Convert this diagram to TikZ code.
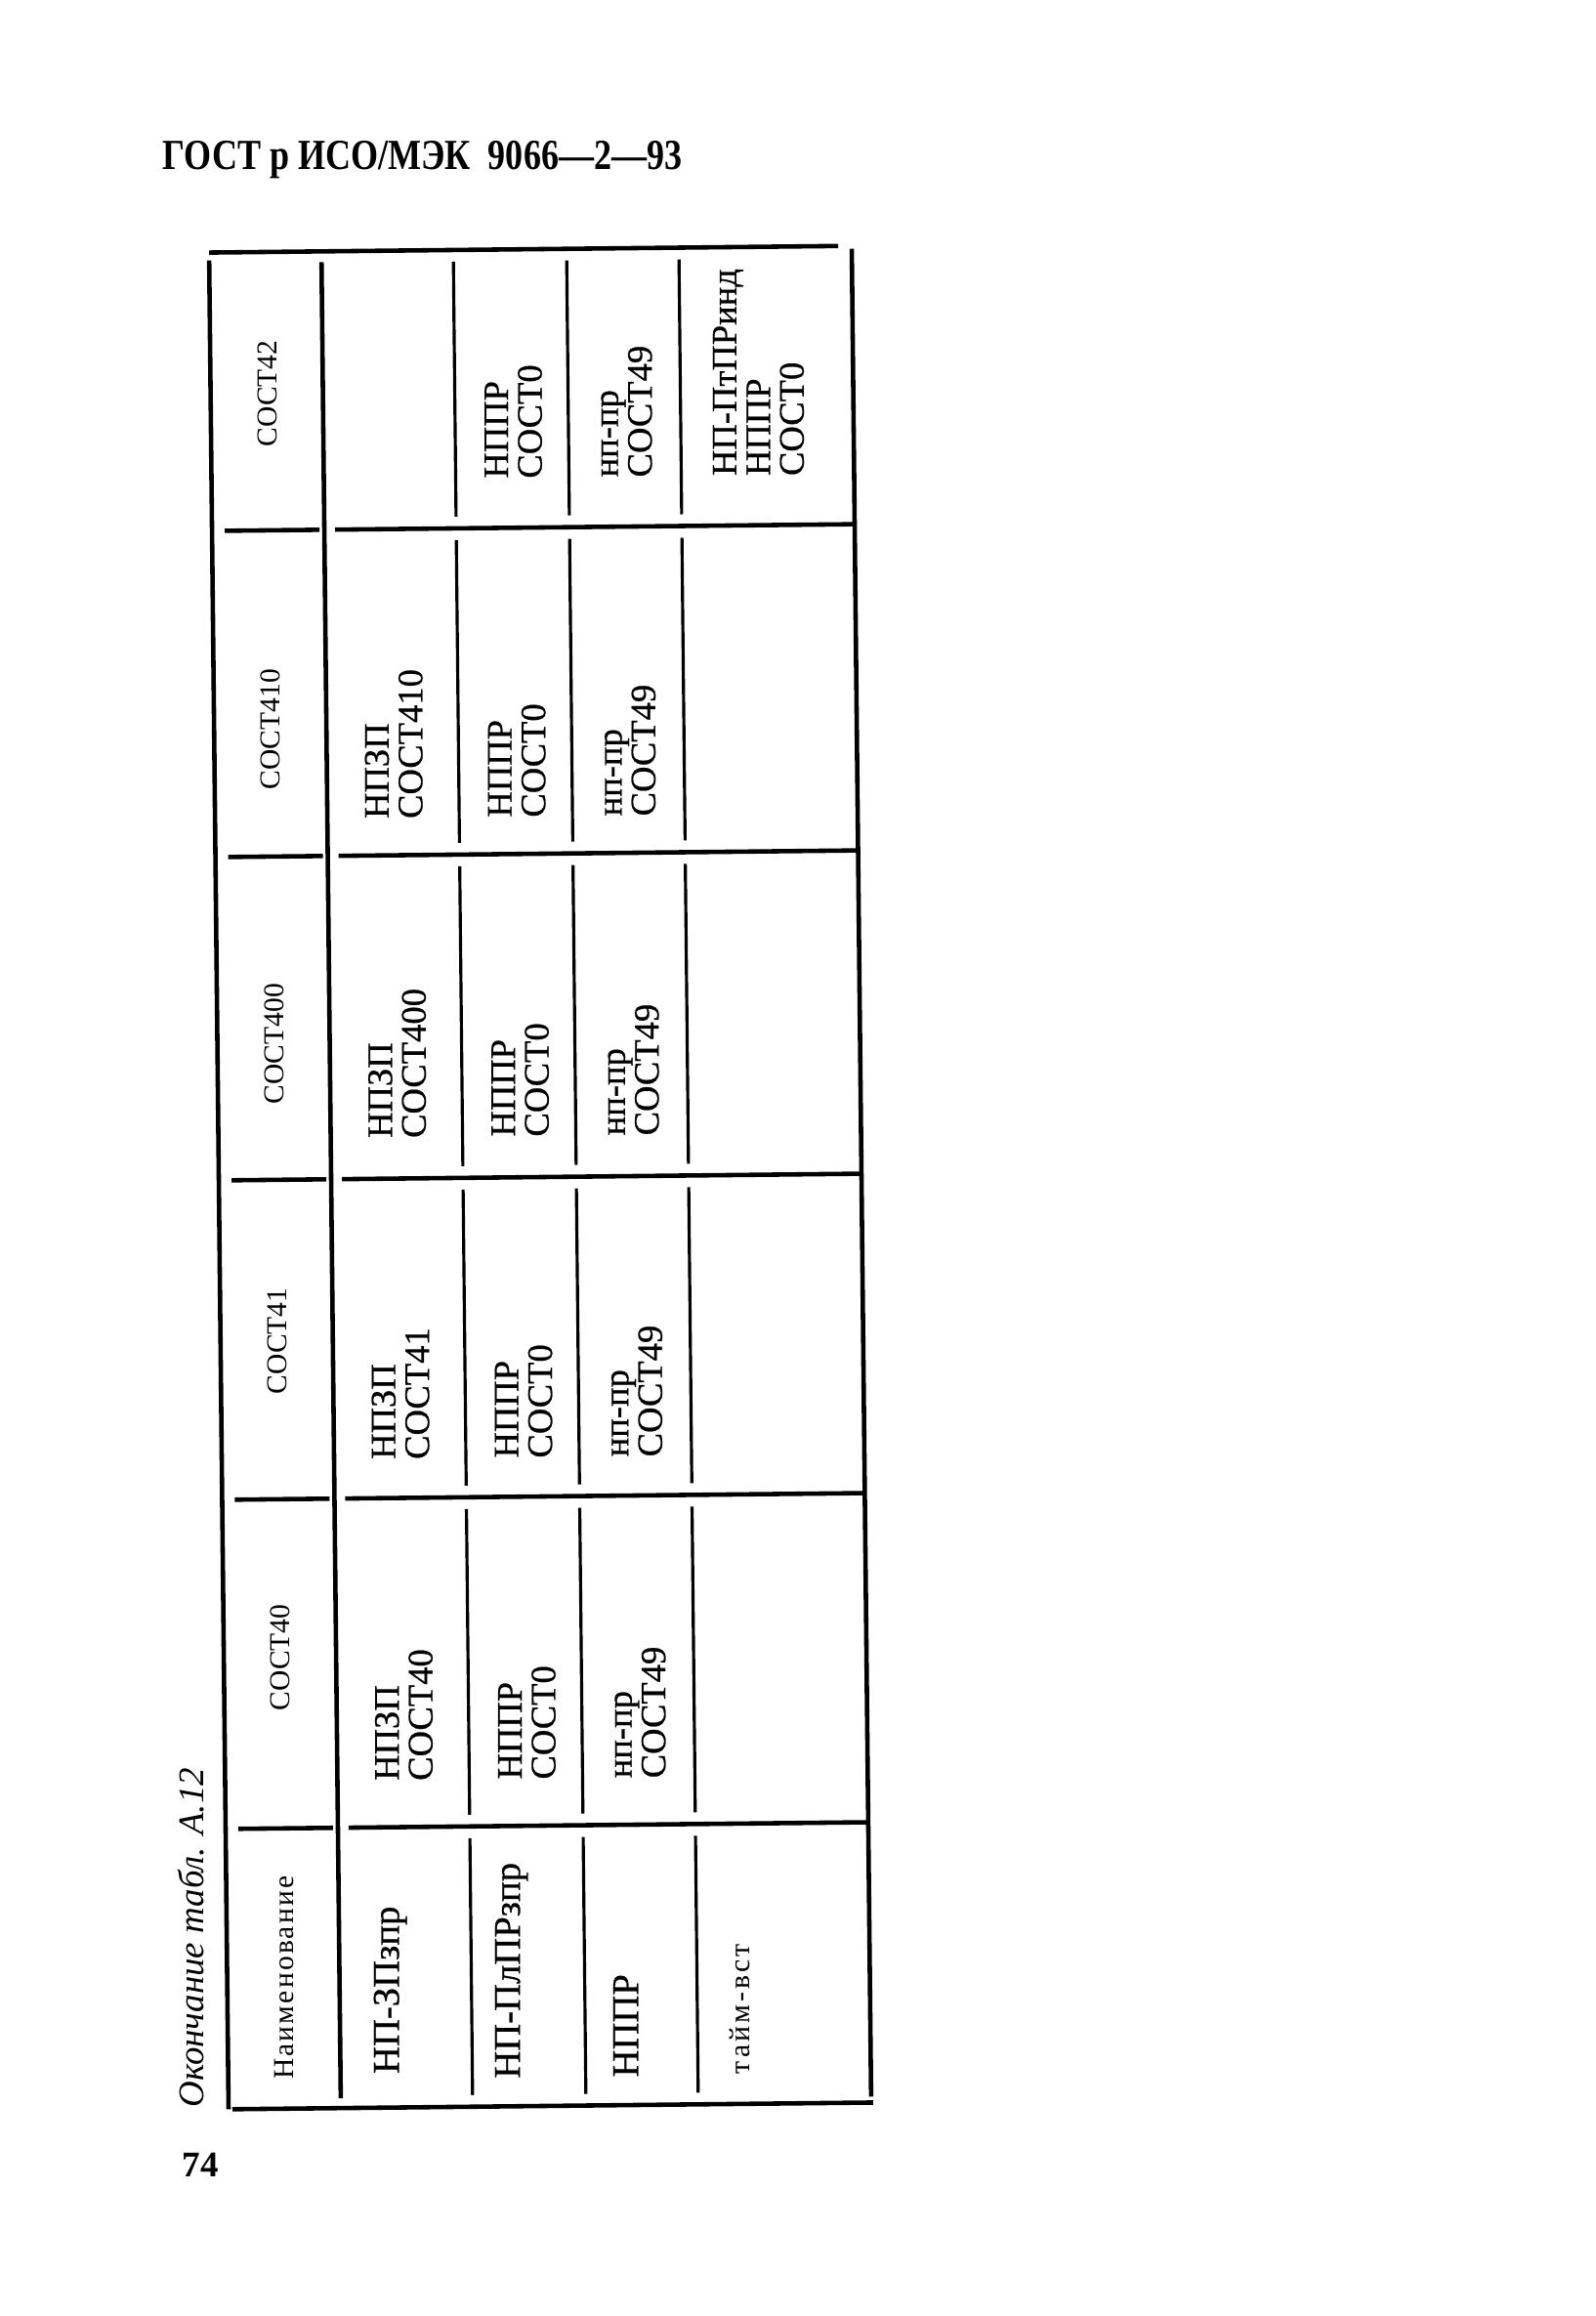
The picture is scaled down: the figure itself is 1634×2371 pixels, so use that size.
\documentclass[tikz,border=0pt]{standalone}
\usepackage{fontspec}
\setmainfont{Liberation Serif}
\usepackage{tikz}
\tikzset{
  frame/.style={line width=1.3pt},
  rowrule/.style={line width=0.9pt},
  hd/.style={rotate=90, font=\fontsize{8.4}{8.4}\selectfont},
  cell/.style={rotate=90, anchor=west, align=left, inner sep=0pt, font=\fontsize{10.4}{9.8}\selectfont\addfontfeature{FakeBold=0.6}},
  rowlab/.style={rotate=90, anchor=west, inner sep=0pt, font=\fontsize{11}{11}\selectfont\addfontfeature{FakeBold=0.6}},
}

\begin{document}
\begin{tikzpicture}[x=0.01cm,y=-0.01cm]
\useasboundingbox (0,0) rectangle (1634,2371);
% page head and foot
\node[anchor=base west, inner sep=0pt, xscale=0.82, font=\bfseries\fontsize{12.5}{12.5}\selectfont] (head) at (166,173) {ГОСТ р ИСО/МЭК\ \ 9066—2—93};
\node[anchor=base west, inner sep=0pt, font=\bfseries\fontsize{10.5}{10.5}\selectfont] (page) at (186,2228) {74};
\node[rotate=90, anchor=base west, inner sep=0pt, font=\itshape\fontsize{10.5}{10.5}\selectfont] (cap) at (208,2158) {Окончание табл. А.12};
%
\begin{scope}[rotate around={0.6:(553,1205)}]
% frame
\draw[frame] (224,255) -- (868,255);
\draw[frame] (224,263) -- (224,2156);
\draw[frame] (339,266) -- (339,2146);
\draw[frame] (882,258) -- (882,2150);
\draw[frame] (228,2156) -- (884,2156);
% rules between blocks
\foreach \Y in {540,874,1205,1532,1869}{
  \draw[frame] (237,\Y) -- (334,\Y);
  \draw[frame] (350,\Y) -- (880,\Y);
}
% rules between rows
\foreach \Top/\Bot in {255/540,540/874,874/1205,1205/1532,1532/1869,1869/2156}
  \foreach \X in {474,590,705}
    \draw[rowrule] (\X,\Top+12) -- (\X,\Bot-12);
%
\node[hd] (s42) at (282,400) {СОСТ42};
\node[hd] (s410) at (282,744) {СОСТ410};
\node[hd] (s400) at (282,1066) {СОСТ400};
\node[hd] (s41) at (282,1370) {СОСТ41};
\node[hd] (s40) at (282,1694) {СОСТ40};
\node[hd, font=\fontsize{8.4}{8.4}\selectfont\addfontfeature{LetterSpace=7.5}] (naim) at (282,2022) {Наименование};
%
\node[cell] (a2) at (533,490) {НППР\\СОСТ0};
\node[cell] (a3) at (649,490) {нп-пр\\СОСТ49};
\node[cell] (a4) at (784,490) {НП-ПтПРинд\\НППР\\СОСТ0};
%
\node[cell] (b1) at (407,837) {НПЗП\\СОСТ410};
\node[cell] (b2) at (533,837) {НППР\\СОСТ0};
\node[cell] (b3) at (649,837) {нп-пр\\СОСТ49};
%
\node[cell] (c1) at (407,1164) {НПЗП\\СОСТ400};
\node[cell] (c2) at (533,1164) {НППР\\СОСТ0};
\node[cell] (c3) at (649,1164) {нп-пр\\СОСТ49};
%
\node[cell] (d1) at (407,1493) {НПЗП\\СОСТ41};
\node[cell] (d2) at (533,1493) {НППР\\СОСТ0};
\node[cell] (d3) at (649,1493) {нп-пр\\СОСТ49};
%
\node[cell] (e1) at (407,1822) {НПЗП\\СОСТ40};
\node[cell] (e2) at (533,1822) {НППР\\СОСТ0};
\node[cell] (e3) at (649,1822) {нп-пр\\СОСТ49};
%
\node[rowlab] (r1) at (390,2122) {НП-ЗПзпр};
\node[rowlab] (r2) at (514,2128) {НП-ПлПРзпр};
\node[rowlab] (r3) at (631,2128) {НППР};
\node[rowlab, font=\fontsize{8.5}{8.5}\selectfont\addfontfeature{LetterSpace=10}] (r4) at (748,2126) {тайм-вст};
\end{scope}
\end{tikzpicture}
\end{document}
